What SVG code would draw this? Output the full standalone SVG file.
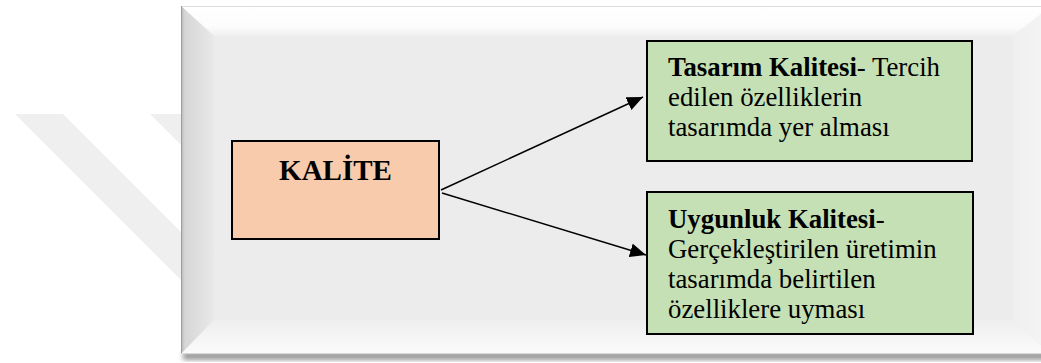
<svg xmlns="http://www.w3.org/2000/svg" width="1041" height="363" viewBox="0 0 1041 363">
  <style>
    .box { stroke: #000; stroke-width: 2; }
    .b { font-weight: bold; }
    .conn { stroke: #000; stroke-width: 1.5; fill: none; }
  </style>
  <defs>
    <linearGradient id="gTop" x1="0" y1="0" x2="0" y2="1">
      <stop offset="0" stop-color="#ffffff"/>
      <stop offset="0.7" stop-color="#fcfcfc"/>
      <stop offset="1" stop-color="#efefef"/>
    </linearGradient>
    <linearGradient id="gLeft" x1="0" y1="0" x2="1" y2="0">
      <stop offset="0" stop-color="#b8b8b8"/>
      <stop offset="0.12" stop-color="#d6d6d6"/>
      <stop offset="1" stop-color="#e9e9e9"/>
    </linearGradient>
    <linearGradient id="gBottom" x1="0" y1="0" x2="0" y2="1">
      <stop offset="0" stop-color="#eeeeee"/>
      <stop offset="1" stop-color="#fbfbfb"/>
    </linearGradient>
    <linearGradient id="gRight" x1="0" y1="0" x2="1" y2="0">
      <stop offset="0" stop-color="#efefef"/>
      <stop offset="1" stop-color="#f5f5f5"/>
    </linearGradient>
    <filter id="shadow" x="-5%" y="-20%" width="110%" height="140%">
      <feGaussianBlur stdDeviation="2.5"/>
    </filter>
    <marker id="arrow" markerUnits="userSpaceOnUse" markerWidth="18" markerHeight="14" refX="16" refY="7" orient="auto">
      <path d="M0,0 L16,7 L0,14 Z" fill="#000"/>
    </marker>
  </defs>

  <!-- background watermark bands -->
  <g id="watermark" fill="#efefef">
    <polygon points="15,114 63,114 200,251 200,299"/>
    <polygon points="150,114 190,114 200,124 200,164"/>
  </g>

  <!-- bevelled frame -->
  <g id="frame">
    <rect x="183" y="352" width="870" height="8" fill="#9a9a9a" filter="url(#shadow)"/>
    <rect x="181" y="6" width="870" height="348" fill="#ececec"/>
    <polygon points="181,6 1051,6 1013,36 214,36" fill="url(#gTop)"/>
    <polygon points="181,6 214,36 214,320 181,354" fill="url(#gLeft)"/>
    <polygon points="181,354 214,320 1013,320 1051,354" fill="url(#gBottom)"/>
    <polygon points="1051,6 1013,36 1013,320 1051,354" fill="url(#gRight)"/>
    <line x1="181" y1="6.5" x2="1041" y2="6.5" stroke="#dcdcdc" stroke-width="1"/>
    <line x1="181.5" y1="6" x2="181.5" y2="354" stroke="#9c9c9c" stroke-width="1"/>
    <line x1="181" y1="353.5" x2="1041" y2="353.5" stroke="#d8d8d8" stroke-width="1"/>
  </g>

  <!-- connectors -->
  <g id="connectors">
    <line class="conn" x1="441" y1="190" x2="643" y2="97" marker-end="url(#arrow)"/>
    <line class="conn" x1="442" y1="193" x2="646" y2="255" marker-end="url(#arrow)"/>
  </g>

  <g id="kalite">
    <rect class="box" x="232" y="141" width="207" height="98" fill="#f8cbad"/>
    <text x="335.5" y="180" font-family="'Liberation Serif', 'Times New Roman', serif" font-size="29" font-weight="bold" text-anchor="middle">KALİTE</text>
  </g>

  <g id="tasarim" font-family="'Liberation Serif', 'Times New Roman', serif" font-size="26.8">
    <rect class="box" x="647" y="41" width="325" height="120" fill="#c5e0b4"/>
    <text x="668" y="76"><tspan class="b">Tasarım Kalitesi</tspan>- Tercih</text>
    <text x="668" y="106">edilen özelliklerin</text>
    <text x="668" y="136">tasarımda yer alması</text>
  </g>

  <g id="uygunluk" font-family="'Liberation Serif', 'Times New Roman', serif" font-size="26.8">
    <rect class="box" x="647" y="192" width="326" height="142" fill="#c5e0b4"/>
    <text x="668" y="228"><tspan class="b">Uygunluk Kalitesi</tspan>-</text>
    <text x="668" y="258">Gerçekleştirilen üretimin</text>
    <text x="668" y="288">tasarımda belirtilen</text>
    <text x="668" y="318">özelliklere uyması</text>
  </g>
</svg>
